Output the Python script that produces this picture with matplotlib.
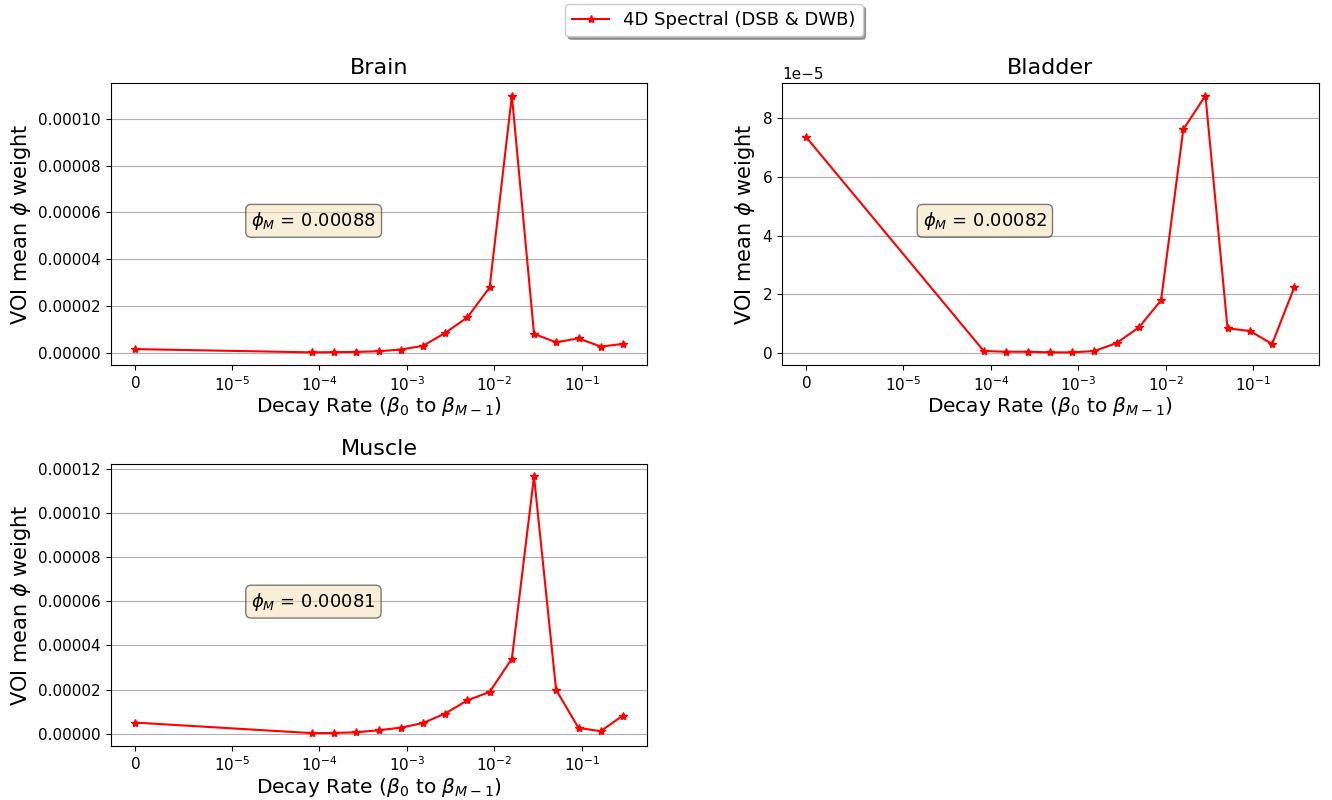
import matplotlib
matplotlib.use("Agg")
import matplotlib.pyplot as plt
from matplotlib.ticker import NullLocator

# decay rates (beta_0 .. beta_{M-1})
rates = [0, 8.3e-5, 1.47e-4, 2.64e-4, 4.74e-4, 8.5e-4, 1.53e-3, 2.74e-3,
         4.93e-3, 8.85e-3, 1.59e-2, 2.85e-2, 5.1e-2, 9.2e-2, 0.165, 0.296]

brain = [1.5e-6, 1e-7, 2e-7, 3e-7, 5.7e-7, 1.3e-6, 2.9e-6, 8.4e-6,
         1.51e-5, 2.79e-5, 1.10e-4, 8.0e-6, 4.4e-6, 6.1e-6, 2.6e-6, 3.7e-6]
bladder = [7.33e-5, 7.9e-7, 5.6e-7, 5.6e-7, 3.4e-7, 3.4e-7, 7.9e-7, 3.5e-6,
           8.8e-6, 1.80e-5, 7.60e-5, 8.75e-5, 8.5e-6, 7.6e-6, 3.2e-6, 2.24e-5]
muscle = [5.0e-6, 2e-7, 3e-7, 6e-7, 1.5e-6, 2.7e-6, 4.8e-6, 9.1e-6,
          1.51e-5, 1.89e-5, 3.40e-5, 1.167e-4, 1.98e-5, 2.6e-6, 1.1e-6, 8.2e-6]

regions = ["Brain", "Bladder", "Muscle"]
phi_m = ["0.00088", "0.00082", "0.00081"]
series = [brain, bladder, muscle]

fig, axes = plt.subplots(2, 2, figsize=(13.32, 8), dpi=100)
fig.subplots_adjust(left=0.083, right=0.99, bottom=0.0675, top=0.8966,
                    wspace=0.251, hspace=0.348)
axes = axes.flatten()
axes[3].axis('off')

for i in range(3):
    ax = axes[i]
    line, = ax.plot(rates, series[i], 'r-*', label='4D Spectral (DSB & DWB)')
    ax.set_xscale('symlog', linthresh=1e-5)
    ax.xaxis.set_minor_locator(NullLocator())
    ax.yaxis.grid(True)
    ax.set_title(regions[i], fontsize=16)
    ax.set_xlabel(r'Decay Rate ($\beta_0$ to $\beta_{M-1}$)', fontsize=14.5,
                  labelpad=1)
    ax.set_ylabel(r'VOI mean $\phi$ weight', fontsize=15)
    ax.tick_params(labelsize=11)
    ax.yaxis.get_offset_text().set_fontsize(11)
    ax.text(0.262, 0.55, r'$\phi_M$ = ' + phi_m[i], transform=ax.transAxes,
            fontsize=13, va='top',
            bbox=dict(boxstyle='round', facecolor='wheat', alpha=0.5))

fig.legend(handles=[line], loc='upper center', bbox_to_anchor=(0.536, 0.995),
           borderaxespad=0, fontsize=13, shadow=True, fancybox=True)

fig.savefig('out.png')
